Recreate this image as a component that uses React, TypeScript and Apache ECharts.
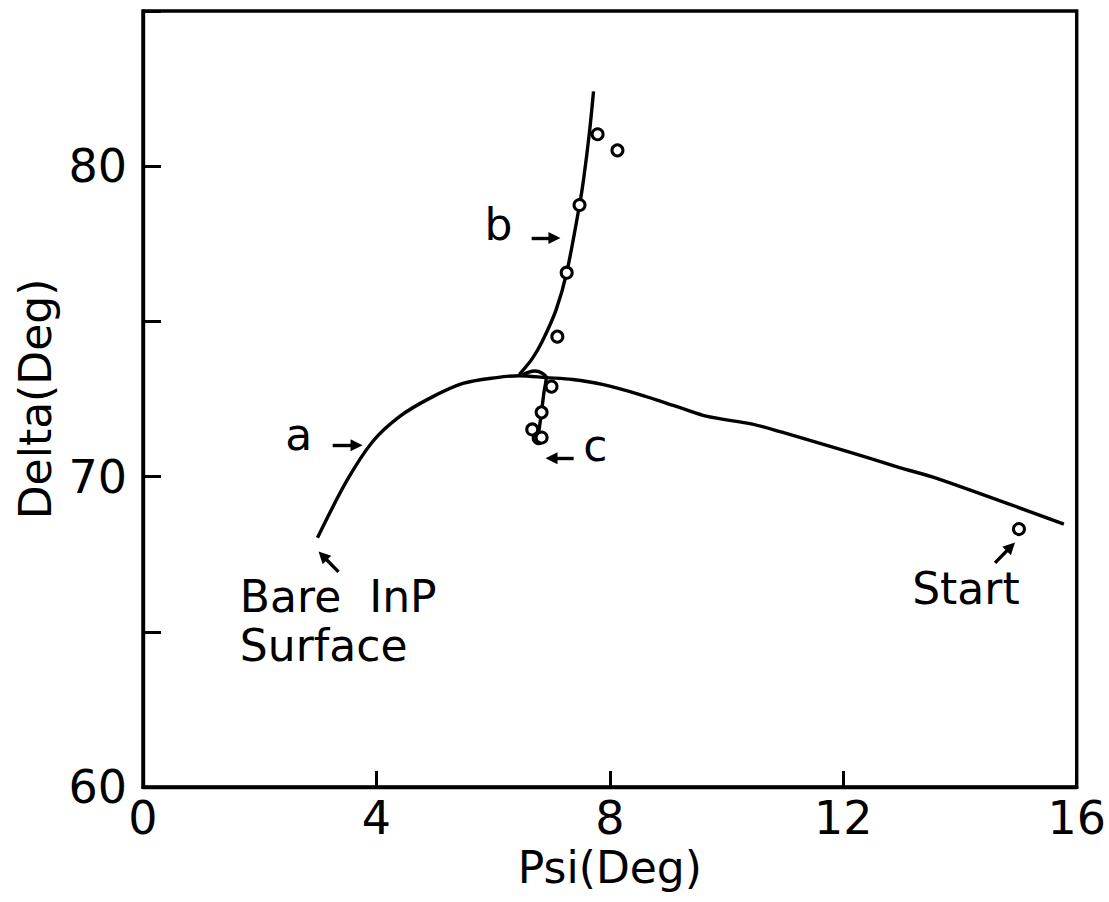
import React, { useEffect, useRef } from "react";
import * as echarts from "echarts";

// Curve a: main trajectory (Psi, Delta)
const curveA: number[][] = [
  [2.99, 68.03], [3.49, 69.86], [3.94, 71.14], [4.40, 71.94], [4.91, 72.52],
  [5.48, 73.0], [6.06, 73.19], [6.45, 73.25], [6.91, 73.19], [7.36, 73.13],
  [7.87, 72.97], [8.5, 72.65], [9.19, 72.23], [9.67, 71.94], [10.44, 71.69],
  [10.95, 71.43], [12.05, 70.82], [12.95, 70.3], [13.64, 69.92], [15.78, 68.47],
];
// Curve b: branch rising steeply
const curveB: number[][] = [
  [6.45, 73.29], [6.67, 73.8], [6.84, 74.35], [7.08, 75.38], [7.26, 76.57],
  [7.48, 78.75], [7.55, 79.58], [7.65, 81.09], [7.72, 82.41],
];
// Curve c: short branch going down
const curveC: number[][] = [
  [6.47, 73.25], [6.6, 73.36], [6.72, 73.4], [6.84, 73.33], [6.91, 73.19],
  [6.87, 72.7], [6.83, 72.1], [6.79, 71.55], [6.77, 71.25],
];
// Measured points (open circles)
const measured: number[][] = [
  [7.79, 81.03], [8.13, 80.51], [7.48, 78.75], [7.26, 76.57], [7.1, 74.51],
  [7.0, 72.9], [6.83, 72.07], [6.67, 71.52], [6.78, 71.24], [6.83, 71.26],
  [15.01, 68.31],
];
// Tick settings
const xTicks = { min: 0, max: 16, interval: 4 };
const yTicks = { min: 60, max: 85, interval: 5 };
const yLabelled = [60, 70, 80];

// Annotations: text, anchor (data coords), alignment
const labels: { text: string; at: number[]; align: string }[] = [
  { text: "a", at: [2.67, 71.36], align: "center" },
  { text: "b", at: [6.09, 78.11], align: "center" },
  { text: "c", at: [7.75, 71.01], align: "center" },
  { text: "Bare  InP", at: [1.66, 66.13], align: "left" },
  { text: "Surface", at: [1.66, 64.56], align: "left" },
  { text: "Start", at: [13.18, 66.39], align: "left" },
];
// Arrows: [tail, head] in data coords
const arrows: number[][][] = [
  [[3.25, 71.01], [3.66, 71.01]],
  [[6.66, 77.69], [7.05, 77.69]],
  [[7.38, 70.59], [7.0, 70.59]],
  [[3.35, 66.93], [3.08, 67.45]],
  [[14.6, 67.22], [14.87, 67.74]],
];

const FONT = '"DejaVu Sans", sans-serif';

export default function App() {
  const ref = useRef<HTMLDivElement>(null);
  useEffect(() => {
    if (!ref.current) return;
    const chart = echarts.init(ref.current, undefined, { renderer: "svg" });
    const lineSeries = (name: string, data: number[][]) => ({
      name,
      type: "line",
      data,
      showSymbol: false,
      smooth: 0.3,
      lineStyle: { color: "#000", width: 3.4 },
      silent: true,
      z: 3,
    });
    chart.setOption({
      animation: false,
      backgroundColor: "#fff",
      grid: {
        left: 143, right: 31, top: 11, bottom: 115,
        show: true, borderColor: "#000", borderWidth: 3.4,
      },
      xAxis: {
        type: "value",
        min: xTicks.min, max: xTicks.max, interval: xTicks.interval,
        name: "Psi(Deg)",
        nameLocation: "middle",
        nameGap: 52,
        nameTextStyle: { fontSize: 44, fontFamily: FONT, color: "#000" },
        axisLine: { lineStyle: { color: "#000", width: 3.4 } },
        axisTick: { inside: true, length: 16, lineStyle: { color: "#000", width: 3 } },
        axisLabel: { fontSize: 46, fontFamily: FONT, color: "#000", margin: 8, showMinLabel: true, showMaxLabel: true },
        splitLine: { show: false },
      },
      yAxis: {
        type: "value",
        min: yTicks.min, max: yTicks.max, interval: yTicks.interval,
        name: "Delta(Deg)",
        nameLocation: "middle",
        nameGap: 83,
        nameTextStyle: { fontSize: 44, fontFamily: FONT, color: "#000" },
        axisLine: { lineStyle: { color: "#000", width: 3.4 } },
        axisTick: { inside: true, length: 18, lineStyle: { color: "#000", width: 3 } },
        axisLabel: {
          fontSize: 46, fontFamily: FONT, color: "#000", margin: 16,
          showMinLabel: true,
          formatter: (v: number) => (yLabelled.indexOf(v) >= 0 ? String(v) : ""),
        },
        splitLine: { show: false },
      },
      series: [
        lineSeries("a", curveA),
        lineSeries("b", curveB),
        lineSeries("c", curveC),
        {
          name: "measured",
          type: "scatter",
          data: measured,
          symbol: "circle",
          symbolSize: 11,
          itemStyle: { color: "#fff", borderColor: "#000", borderWidth: 3, opacity: 1 },
          silent: true,
          z: 4,
          markLine: {
            silent: true,
            symbol: ["none", "triangle"],
            symbolSize: 12,
            lineStyle: { color: "#000", width: 3.4, type: "solid" },
            itemStyle: { color: "#000" },
            label: { show: false },
            data: arrows.map(([t, h]) => [{ coord: t }, { coord: h }]),
          },
        },
      ],
    });
    const graphics = labels.map((l) => {
      const p = chart.convertToPixel({ gridIndex: 0 }, l.at) as number[];
      return {
        type: "text",
        x: p[0],
        y: p[1],
        silent: true,
        style: {
          text: l.text,
          font: `44px ${FONT}`,
          fill: "#000",
          align: l.align,
          verticalAlign: "middle",
        },
      };
    });
    chart.setOption({ graphic: graphics });
    return () => chart.dispose();
  }, []);
  return (
    <div
      ref={ref}
      style={{ position: "fixed", left: 0, top: 0, width: 1109, height: 902, background: "#fff" }}
    />
  );
}
